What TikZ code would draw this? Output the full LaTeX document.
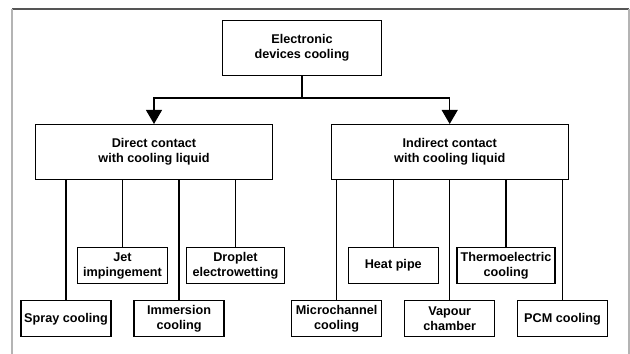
\documentclass[tikz,border=0pt]{standalone}
\usepackage{fontspec}
\setmainfont{Liberation Sans}
\usetikzlibrary{arrows.meta,positioning}
\definecolor{framedark}{HTML}{555555}
\definecolor{framelight}{HTML}{B4B4B4}

\begin{document}
\begin{tikzpicture}[x=0.025cm, y=-0.025cm,
  every node/.style={font=\bfseries\fontsize{9}{10.7}\selectfont},
  rootbox/.style={rectangle, draw, line width=0.75pt, minimum width=3.975cm, minimum height=1.375cm, align=center},
  catbox/.style={rectangle, draw, line width=0.75pt, minimum width=5.925cm, minimum height=1.375cm, align=center},
  leafbox/.style={rectangle, draw, line width=0.75pt, minimum width=2.25cm, minimum height=0.9cm, inner sep=1pt, align=center},
  wideleaf/.style={leafbox, minimum width=2.45cm},
  link/.style={line width=0.75pt},
  arr/.style={link, -{Triangle[length=0.35cm, width=0.4cm]}}
]
  \useasboundingbox (0,0) rectangle (630,354);
  % frame
  \draw[framedark, line width=1pt] (12,9) -- (629,9);
  \draw[framelight, line width=1.4pt] (12,9) -- (12,354);
  \draw[framelight, line width=1.4pt] (629,9) -- (629,354);

  \node[rootbox] (root) at (302,48) {Electronic\\devices cooling};
  \node[catbox] (direct) at (154,152) {Direct contact\\with cooling liquid};
  \node[catbox] (indirect) at (449.7,152) {Indirect contact\\with cooling liquid};

  \coordinate (split) at (302,98);
  \draw[link] (root) -- (split);
  \draw[arr] (split) -| (direct.north);
  \draw[arr] (split) -| (indirect.north);

  % direct contact
  \node[leafbox] (jet) at (122.5,265.7) {Jet\\impingement};
  \node[wideleaf] (droplet) at (235.5,265.7) {Droplet\\electrowetting};
  \node[leafbox] (spray) at (66,318.8) {Spray cooling};
  \node[leafbox] (immersion) at (179,318.8) {Immersion\\cooling};

  % indirect contact
  \node[leafbox] (heatpipe) at (393.3,265.7) {Heat pipe};
  \node[wideleaf] (thermo) at (506,265.7) {Thermoelectric\\cooling};
  \node[leafbox] (micro) at (336.7,318.8) {Microchannel\\cooling};
  \node[leafbox] (vapour) at (449.7,318.8) {Vapour\\chamber};
  \node[leafbox] (pcm) at (562.5,318.8) {PCM cooling};

  \foreach \leaf in {spray,jet,immersion,droplet}
    \draw[link] (\leaf.north) -- (\leaf.north |- direct.south);
  \foreach \leaf in {micro,heatpipe,vapour,thermo,pcm}
    \draw[link] (\leaf.north) -- (\leaf.north |- indirect.south);
\end{tikzpicture}
\end{document}
